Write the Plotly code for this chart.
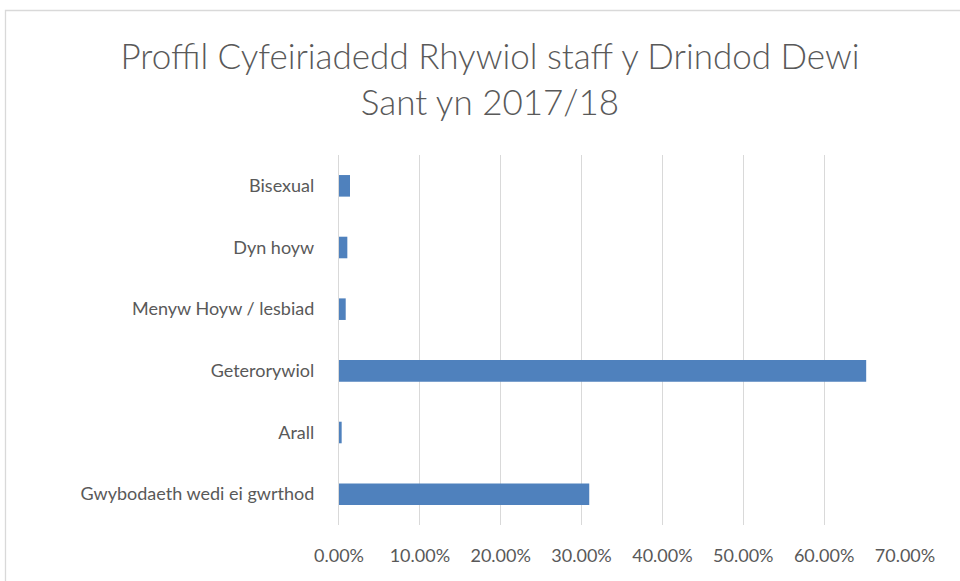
import plotly.graph_objects as go

categories = ["Bisexual", "Dyn hoyw", "Menyw Hoyw / lesbiad", "Geterorywiol", "Arall",
              "Gwybodaeth wedi ei gwrthod"]
values = [0.0136, 0.0103, 0.0083, 0.652, 0.0033, 0.3095]
tick_vals = [0, 0.1, 0.2, 0.3, 0.4, 0.5, 0.6, 0.7]
tick_text = ["0.00%", "10.00%", "20.00%", "30.00%", "40.00%", "50.00%", "60.00%", "70.00%"]

TEXT = "#595959"
GRID = "#d9d9d9"
FONT = "Lato"

fig = go.Figure(go.Bar(
    x=values, y=categories, orientation="h",
    marker=dict(color="#4f81bd", line=dict(width=0)),
    hoverinfo="skip",
))

fig.update_layout(
    width=960, height=581,
    margin=dict(l=339, r=55, t=155, b=56),
    paper_bgcolor="white", plot_bgcolor="white",
    bargap=0.65,
    showlegend=False,
    font=dict(family=FONT, color=TEXT),
    title=dict(
        text="Proffil Cyfeiriadedd Rhywiol staff y Drindod Dewi<br>Sant yn 2017/18",
        x=490 / 960, xanchor="center", xref="container",
        y=1 - 69 / 581, yanchor="top", yref="container",
        font=dict(family=FONT, size=35, color=TEXT, weight=300),
    ),
    xaxis=dict(
        range=[0, 0.7], tickvals=tick_vals, ticktext=tick_text,
        showgrid=True, gridcolor=GRID, gridwidth=1.3,
        zeroline=False, showline=False,
        tickfont=dict(family=FONT, size=18, color=TEXT),
        ticks="outside", ticklen=14, tickcolor="rgba(0,0,0,0)",
        fixedrange=True,
    ),
    yaxis=dict(
        autorange="reversed",
        showgrid=False, zeroline=False,
        showline=True, linecolor=GRID, linewidth=1.3,
        tickfont=dict(family=FONT, size=18, color=TEXT),
        ticks="outside", ticklen=20, tickcolor="rgba(0,0,0,0)",
        fixedrange=True,
    ),
    shapes=[dict(
        type="rect", xref="paper", yref="paper",
        x0=(5.5 - 339) / 566, x1=2.0, y0=-1.0, y1=(525 - 10.5) / 370,
        line=dict(color=GRID, width=1.3), fillcolor="rgba(0,0,0,0)", layer="below",
    )],
)

fig.write_html("out.html", config={"displayModeBar": False},
               post_script="document.body.style.margin='0';")
